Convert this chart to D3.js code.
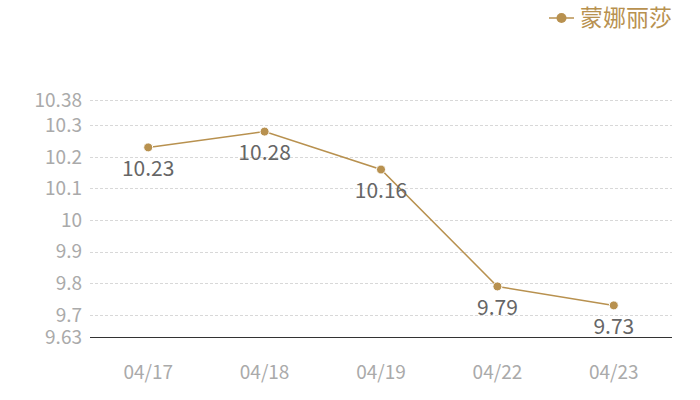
<!DOCTYPE html>
<html>
<head>
<meta charset="utf-8">
<script src="https://cdn.jsdelivr.net/npm/d3@7"></script>
<style>
  body { margin: 0; background: #fff; }
  text { font-family: "Noto Sans CJK SC", "Noto Sans", sans-serif; }
</style>
</head>
<body>
<div id="chart"></div>
<script>
var dates = ["04/17", "04/18", "04/19", "04/22", "04/23"];
var prices = [10.23, 10.28, 10.16, 9.79, 9.73];
var yTicks = [9.63, 9.7, 9.8, 9.9, 10, 10.1, 10.2, 10.3, 10.38];
var seriesName = "蒙娜丽莎";

var width = 700, height = 400;
var lineColor = "#b8914f";

var svg = d3.select("#chart").append("svg")
  .attr("width", width)
  .attr("height", height);

var x = d3.scaleBand().domain(dates).range([90, 672]);
var y = d3.scaleLinear().domain([9.63, 10.38]).range([337, 100]);

// grid lines
svg.append("g")
  .selectAll("line")
  .data(yTicks.filter(function(d) { return d !== 9.63; }))
  .enter().append("line")
  .attr("x1", 90).attr("x2", 672)
  .attr("y1", function(d) { return Math.round(y(d)) + 0.5; })
  .attr("y2", function(d) { return Math.round(y(d)) + 0.5; })
  .attr("stroke", "#d8d8d8")
  .attr("stroke-dasharray", "3,2");

// y axis labels
svg.append("g")
  .selectAll("text")
  .data(yTicks)
  .enter().append("text")
  .attr("x", 82)
  .attr("y", function(d) { return y(d); })
  .attr("dy", "0.35em")
  .attr("text-anchor", "end")
  .attr("fill", "#aaaaaa")
  .style("font-size", "19px")
  .text(function(d) { return d; });

// x axis baseline
svg.append("line")
  .attr("x1", 90).attr("x2", 672)
  .attr("y1", Math.round(y(9.63)) + 0.5)
  .attr("y2", Math.round(y(9.63)) + 0.5)
  .attr("stroke", "#333");

var xAxis = svg.append("g")
  .attr("transform", "translate(0," + 372 + ")")
  .call(d3.axisBottom(x).tickSize(0).tickPadding(0));
xAxis.select(".domain").remove();
xAxis.selectAll("text")
  .attr("fill", "#aaaaaa")
  .attr("dy", "0.35em")
  .style("font-size", "19px")
  .style("font-family", "'Noto Sans CJK SC', sans-serif");

var cx = function(d, i) { return x(dates[i]) + x.bandwidth() / 2; };

var line = d3.line()
  .x(function(d, i) { return cx(d, i); })
  .y(function(d) { return y(d); });

svg.append("path")
  .datum(prices)
  .attr("d", line)
  .attr("fill", "none")
  .attr("stroke", lineColor)
  .attr("stroke-width", 1.5);

svg.append("g")
  .selectAll("circle")
  .data(prices)
  .enter().append("circle")
  .attr("cx", cx)
  .attr("cy", function(d) { return y(d); })
  .attr("r", 4.5)
  .attr("fill", lineColor)
  .attr("stroke", "#fff")
  .attr("stroke-width", 1);

svg.append("g")
  .selectAll("text")
  .data(prices)
  .enter().append("text")
  .attr("x", cx)
  .attr("y", function(d) { return y(d) + 21; })
  .attr("dy", "0.35em")
  .attr("text-anchor", "middle")
  .attr("fill", "#666")
  .style("font-size", "21px")
  .text(function(d) { return d; });

// legend
var legend = svg.append("g").attr("transform", "translate(549,18)");
legend.append("line")
  .attr("x1", 0).attr("x2", 25)
  .attr("stroke", lineColor)
  .attr("stroke-width", 1.5);
legend.append("circle")
  .attr("cx", 12.5).attr("r", 5)
  .attr("fill", lineColor);
legend.append("text")
  .attr("x", 31)
  .attr("dy", "0.35em")
  .attr("fill", lineColor)
  .style("font-size", "23px")
  .text(seriesName);
</script>
</body>
</html>
